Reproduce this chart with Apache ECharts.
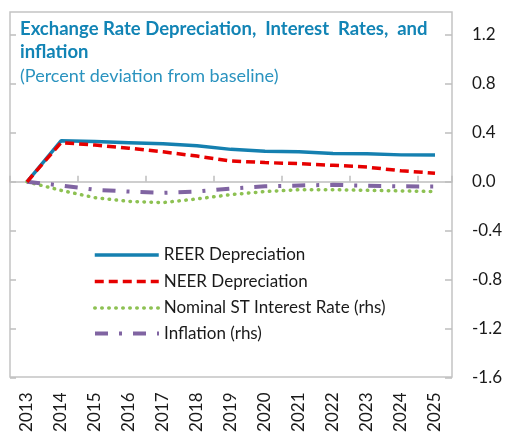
<!DOCTYPE html>
<html>
<head>
<meta charset="utf-8">
<script src="https://cdn.jsdelivr.net/npm/echarts@6/dist/echarts.min.js"></script>
<style>
html,body{margin:0;padding:0;background:#fff;}
#chart{width:508px;height:437px;}
</style>
</head>
<body>
<div id="chart"></div>
<script>
var years = ['2013','2014','2015','2016','2017','2018','2019','2020','2021','2022','2023','2024','2025'];
var reer = [0, 0.335, 0.33, 0.32, 0.31, 0.295, 0.265, 0.25, 0.245, 0.232, 0.23, 0.22, 0.218];
var neer = [0, 0.32, 0.30, 0.275, 0.245, 0.21, 0.17, 0.157, 0.148, 0.135, 0.12, 0.09, 0.07];
var stRate = [0, -0.07, -0.13, -0.16, -0.17, -0.14, -0.105, -0.08, -0.065, -0.065, -0.07, -0.075, -0.08];
var inflation = [0, -0.03, -0.065, -0.08, -0.09, -0.08, -0.055, -0.037, -0.03, -0.025, -0.032, -0.037, -0.038];
var yTicks = {min: -1.6, max: 1.2, interval: 0.4};
var names = ['REER Depreciation', 'NEER Depreciation', 'Nominal ST Interest Rate (rhs)', 'Inflation (rhs)'];

var FONT = 'Lato';
var chart = echarts.init(document.getElementById('chart'), null, {renderer: 'canvas'});

var lineStyles = [
  {width: 3.5, color: '#1580b0', type: 'solid'},
  {width: 3.5, color: '#e60000', type: [9, 5]},
  {width: 3.5, color: '#8dc152', type: [0.5, 6.5], cap: 'round'},
  {width: 4, color: '#8064a2', type: [13, 11, 3, 11]}
];

function legendFor(i, centerY) {
  return {
    data: [names[i]],
    left: 93,
    top: centerY - 10,
    orient: 'vertical',
    padding: 0,
    itemWidth: 64,
    itemHeight: 14,
    selectedMode: false,
    itemStyle: {opacity: 0},
    lineStyle: {width: lineStyles[i].width},
    textStyle: {fontFamily: FONT, fontSize: 17, color: '#1a1a1a', lineHeight: 20}
  };
}

var option = {
  animation: false,
  backgroundColor: '#ffffff',
  title: {
    text: 'Exchange Rate Depreciation,  Interest  Rates,  and\ninflation',
    subtext: '(Percent deviation from baseline)',
    left: 20,
    top: 17.5,
    padding: 0,
    itemGap: 1,
    textStyle: {fontFamily: FONT, fontSize: 18.5, fontWeight: 'bold', color: '#1284b5', lineHeight: 23},
    subtextStyle: {fontFamily: FONT, fontSize: 18, color: '#2a93bf', lineHeight: 23}
  },
  legend: [legendFor(0, 255), legendFor(1, 281.5), legendFor(2, 308), legendFor(3, 333.5)],
  graphic: [{
    type: 'rect',
    shape: {x: 10, y: 12, width: 442, height: 365},
    style: {fill: 'none', stroke: '#c4c4c4', lineWidth: 1.5},
    z: 0
  }],
  grid: {left: 10, right: 56, top: 35, bottom: 59.5},
  xAxis: [{
    type: 'category',
    data: years,
    boundaryGap: true,
    axisLine: {onZero: true, lineStyle: {color: '#bfbfbf', width: 1.5}},
    axisTick: {show: true, inside: true, length: 6, lineStyle: {color: '#bfbfbf', width: 1.5}},
    axisLabel: {show: false},
    splitLine: {show: false}
  }, {
    type: 'category',
    data: years,
    position: 'bottom',
    boundaryGap: true,
    axisLine: {show: false, onZero: false},
    axisTick: {show: false},
    axisLabel: {rotate: 90, margin: 15, fontFamily: FONT, fontSize: 17, color: '#1a1a1a', interval: 0},
    splitLine: {show: false}
  }],
  yAxis: [{
    type: 'value',
    position: 'left',
    min: yTicks.min, max: yTicks.max, interval: yTicks.interval,
    axisLine: {show: false},
    axisTick: {show: true, inside: true, length: 6, lineStyle: {color: '#bfbfbf', width: 1.5}},
    axisLabel: {show: false},
    splitLine: {show: false}
  }, {
    type: 'value',
    position: 'right',
    min: yTicks.min, max: yTicks.max, interval: yTicks.interval,
    axisLine: {show: false},
    axisTick: {show: true, inside: true, length: 7, lineStyle: {color: '#bfbfbf', width: 1.5}},
    axisLabel: {margin: 20, fontFamily: FONT, fontSize: 17, color: '#1a1a1a',
      formatter: function (v) { return v.toFixed(1); }},
    splitLine: {show: false}
  }],
  series: [{
    name: names[0], type: 'line', data: reer, xAxisIndex: 0, yAxisIndex: 0,
    symbol: 'none', color: lineStyles[0].color, lineStyle: lineStyles[0], z: 4
  }, {
    name: names[1], type: 'line', data: neer, xAxisIndex: 0, yAxisIndex: 0,
    symbol: 'none', color: lineStyles[1].color, lineStyle: lineStyles[1], z: 5
  }, {
    name: names[2], type: 'line', data: stRate, xAxisIndex: 0, yAxisIndex: 1,
    symbol: 'none', color: lineStyles[2].color, lineStyle: lineStyles[2], z: 3
  }, {
    name: names[3], type: 'line', data: inflation, xAxisIndex: 0, yAxisIndex: 1,
    symbol: 'none', color: lineStyles[3].color, lineStyle: lineStyles[3], z: 3
  }]
};
chart.setOption(option);
</script>
</body>
</html>
